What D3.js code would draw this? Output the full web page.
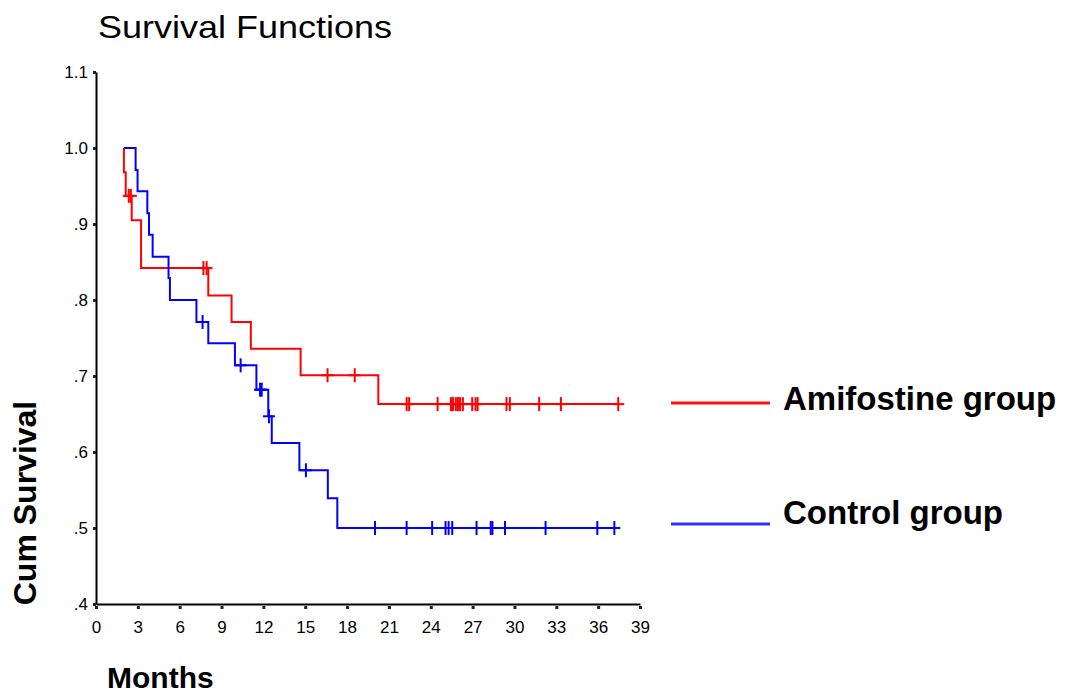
<!DOCTYPE html>
<html>
<head>
<meta charset="utf-8">
<script src="https://cdn.jsdelivr.net/npm/d3@7"></script>
<style>
  body { margin: 0; background: #fff; }
  svg { display: block; font-family: Arial, 'Liberation Sans', sans-serif; }
</style>
</head>
<body>
<div id="chart"></div>
<script>
// Kaplan-Meier steps: [months, cum survival after the step]
const amifostineSteps = [
  [2.0, 1.0], [2.0, 0.968], [2.13, 0.937], [2.56, 0.905], [3.23, 0.842],
  [8.05, 0.806], [9.72, 0.771], [11.10, 0.736], [14.67, 0.701], [20.24, 0.663]
];
const amifostineCensored = [
  2.35, 2.5, 7.7, 7.93, 16.6, 18.55, 22.27, 22.45, 24.49, 25.45, 25.6, 25.8,
  25.95, 26.1, 26.3, 26.97, 27.21, 27.36, 29.43, 29.67, 31.77, 33.33, 37.44
];
const controlSteps = [
  [2.0, 1.0], [2.84, 0.971], [2.98, 0.943], [3.68, 0.914], [3.80, 0.886],
  [4.06, 0.857], [5.20, 0.829], [5.30, 0.800], [7.20, 0.771], [8.05, 0.743],
  [9.96, 0.714], [11.50, 0.682], [12.35, 0.647], [12.60, 0.612], [14.58, 0.576],
  [16.62, 0.539], [17.30, 0.500]
];
const controlCensored = [
  7.64, 10.37, 11.76, 11.88, 12.4, 15.05, 20.0, 22.27, 24.1, 25.06, 25.28,
  25.54, 27.28, 28.3, 28.42, 29.32, 32.23, 35.94, 37.16
];
const xTicks = [0, 3, 6, 9, 12, 15, 18, 21, 24, 27, 30, 33, 36, 39];
const yTicks = [0.4, 0.5, 0.6, 0.7, 0.8, 0.9, 1.0, 1.1];
const yTickLabels = ['.4', '.5', '.6', '.7', '.8', '.9', '1.0', '1.1'];
const groups = [
  { name: 'Amifostine group', steps: amifostineSteps, censored: amifostineCensored, color: '#ff0000', legendColor: '#ff1010' },
  { name: 'Control group', steps: controlSteps, censored: controlCensored, color: '#0000ff', legendColor: '#3030ff' }
];

const width = 1066, height = 695;
const svg = d3.select('#chart').append('svg')
  .attr('width', width)
  .attr('height', height);

const x = d3.scaleLinear().domain([0, 39]).range([96, 640]);
const y = d3.scaleLinear().domain([0.4, 1.1]).range([604, 72]);

// Title
svg.append('text')
  .attr('x', 98).attr('y', 38)
  .attr('font-size', 32)
  .attr('textLength', 294)
  .attr('lengthAdjust', 'spacingAndGlyphs')
  .text('Survival Functions');

// Axes
const yAxis = svg.append('g')
  .attr('transform', `translate(${x(0)},0)`)
  .call(d3.axisLeft(y).tickValues(yTicks)
    .tickFormat((d, i) => yTickLabels[i])
    .tickSize(3).tickSizeOuter(0).tickPadding(5));

const xAxis = svg.append('g')
  .attr('transform', `translate(0,${y(0.4)})`)
  .call(d3.axisBottom(x).tickValues(xTicks).tickSize(5).tickSizeOuter(0));

[yAxis, xAxis].forEach(g => {
  g.select('.domain').attr('stroke', '#000').attr('stroke-width', 2);
  g.selectAll('.tick line').attr('stroke', '#222').attr('stroke-width', 3);
  g.selectAll('.tick text').attr('fill', '#000').attr('font-size', 17)
    .attr('font-family', "Arial, 'Liberation Sans', sans-serif");
});
xAxis.selectAll('.tick line').attr('y1', 2).attr('y2', 5);
xAxis.selectAll('.tick text').attr('y', 29).attr('dy', null);

// Axis titles
svg.append('text')
  .attr('transform', 'translate(36,503) rotate(-90)')
  .attr('text-anchor', 'middle')
  .attr('font-size', 32).attr('font-weight', 'bold')
  .text('Cum Survival');

svg.append('text')
  .attr('x', 107).attr('y', 688)
  .attr('font-size', 30).attr('font-weight', 'bold')
  .text('Months');

// Survival curves
const stepLine = d3.line()
  .x(d => x(d[0]))
  .y(d => y(d[1]))
  .curve(d3.curveStepAfter);

function survivalAt(steps, t) {
  let s = steps[0][1];
  steps.forEach(d => { if (d[0] <= t) s = d[1]; });
  return s;
}

groups.forEach(g => {
  const last = g.steps[g.steps.length - 1];
  const endT = d3.max(g.censored);
  const pts = g.steps.concat([[endT, last[1]]]);

  svg.append('path')
    .attr('d', stepLine(pts))
    .attr('fill', 'none')
    .attr('stroke', g.color)
    .attr('stroke-width', 2);

  const marks = svg.append('g').attr('stroke', g.color).attr('stroke-width', 2);
  g.censored.forEach(t => {
    const cx = x(t), cy = y(survivalAt(g.steps, t));
    marks.append('line').attr('x1', cx).attr('x2', cx).attr('y1', cy - 7).attr('y2', cy + 7);
    marks.append('line').attr('x1', cx - 6).attr('x2', cx + 6).attr('y1', cy).attr('y2', cy);
  });
});

// Legend
const legendLineY = [403, 524];
const legendTextY = [410, 524];
const legend = svg.append('g');
groups.forEach((g, i) => {
  legend.append('line')
    .attr('x1', 671).attr('x2', 770)
    .attr('y1', legendLineY[i]).attr('y2', legendLineY[i])
    .attr('stroke', g.legendColor).attr('stroke-width', 3);
  legend.append('text')
    .attr('x', 783).attr('y', legendTextY[i])
    .attr('font-size', 33).attr('font-weight', 'bold')
    .text(g.name);
});
</script>
</body>
</html>
